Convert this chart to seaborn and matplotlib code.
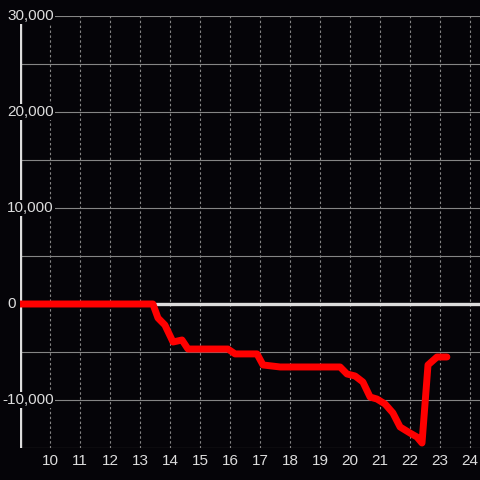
import seaborn as sns
import matplotlib
matplotlib.use("Agg")
import matplotlib.pyplot as plt
import matplotlib.transforms as mtransforms
import pandas as pd

# hour of day vs cumulative value
hours = [9.0, 13.43, 13.6, 13.83, 14.1, 14.4, 14.6, 15.93, 16.17, 16.9, 17.1,
         17.67, 19.67, 19.9, 20.17, 20.43, 20.67, 20.9, 21.17, 21.43, 21.67,
         22.0, 22.23, 22.4, 22.6, 22.9, 23.23]
values = [0, 0, -1460, -2190, -3960, -3750, -4690, -4690, -5200, -5200, -6350,
          -6560, -6560, -7290, -7500, -8125, -9690, -9900, -10420, -11350, -12810,
          -13440, -13850, -14480, -6350, -5520, -5520]

x_ticks = list(range(10, 25))
y_ticks = [30000, 20000, 10000, 0, -10000]
y_tick_labels = ["30,000", "20,000", "10,000", "0", "-10,000"]

bg = "#050408"
grid_col = "#858585"
text_col = "#dddddd"

sns.set_theme(style="dark")
plt.rcParams["font.family"] = ["Liberation Sans", "DejaVu Sans"]

df = pd.DataFrame({"hour": hours, "value": values})

fig = plt.figure(figsize=(4.8, 4.8), dpi=100, facecolor=bg)
ax = fig.add_axes([20 / 480, 32 / 480, 460 / 480, 432 / 480])
ax.set_facecolor(bg)

ax.set_xlim(9, 24 + 1 / 3)
ax.set_ylim(-15000, 30000)

# grid
for h in x_ticks:
    ax.axvline(h, color=grid_col, lw=0.8, ls=(0, (2.2, 2.2)), zorder=1)
for v in range(-15000, 30001, 5000):
    if v != 0:
        ax.axhline(v, color=grid_col, lw=0.8, zorder=1)
ax.axhline(0, color="#dddddd", lw=2.4, zorder=2)
ax.axvline(9, color="#dddddd", lw=2.4, zorder=2)

sns.lineplot(data=df, x="hour", y="value", ax=ax, color="#ff0000", lw=5,
             zorder=3, legend=False)

ax.set_xticks(x_ticks)
ax.set_xticklabels([str(h) for h in x_ticks], color=text_col, fontsize=11)
ax.tick_params(axis="x", length=0, pad=4)
ax.set_yticks([])
ax.set_xlabel("")
ax.set_ylabel("")
for s in ax.spines.values():
    s.set_visible(False)
ax.grid(False)

trans = mtransforms.blended_transform_factory(fig.transFigure, ax.transData)
for v, lab in zip(y_ticks, y_tick_labels):
    x0 = 2 / 480 if lab.startswith("-") else 7 / 480
    ax.text(x0, v, lab, transform=trans, ha="left", va="center",
            color=text_col, fontsize=11, zorder=4, clip_on=False,
            bbox=dict(facecolor=bg, edgecolor="none", pad=1.0))

fig.savefig("out.png", dpi=100, facecolor=bg)
